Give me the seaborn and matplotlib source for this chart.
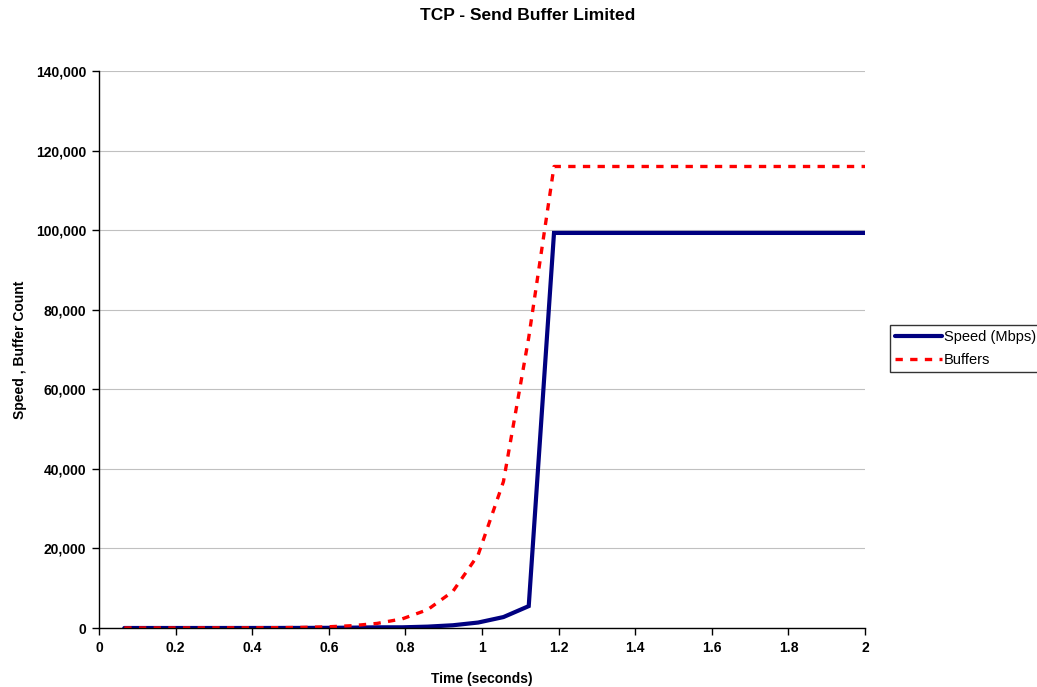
import pandas as pd
import matplotlib
matplotlib.use("Agg")
import matplotlib.pyplot as plt
import seaborn as sns
from matplotlib.ticker import FuncFormatter, MultipleLocator

# samples every round trip (~66 ms)
time_s = [0.066, 0.132, 0.198, 0.264, 0.330, 0.396, 0.462, 0.528, 0.594, 0.660,
          0.726, 0.792, 0.858, 0.924, 0.990, 1.056, 1.122, 1.188, 1.254, 1.320,
          1.386, 1.452, 1.518, 1.584, 1.650, 1.716, 1.782, 1.848, 1.914, 1.980,
          2.046]
speed = [0, 0, 0, 1, 3, 5, 11, 21, 43, 86,
         172, 172, 344, 688, 1375, 2750, 5500, 99300, 99300, 99300,
         99300, 99300, 99300, 99300, 99300, 99300, 99300, 99300, 99300, 99300,
         99300]
buffers = [2, 4, 9, 18, 36, 36, 72, 145, 290, 575,
           1150, 2300, 4600, 9200, 18400, 36800, 73000, 116000, 116000, 116000,
           116000, 116000, 116000, 116000, 116000, 116000, 116000, 116000, 116000, 116000,
           116000]

y_ticks = [0, 20000, 40000, 60000, 80000, 100000, 120000, 140000]

sns.set_style("white")
plt.rcParams["font.family"] = ["Liberation Sans", "DejaVu Sans"]
plt.rcParams["text.color"] = "black"
plt.rcParams["axes.labelcolor"] = "black"
plt.rcParams["xtick.color"] = "black"
plt.rcParams["ytick.color"] = "black"

fig = plt.figure(figsize=(10.37, 6.87), dpi=100)
ax = fig.add_axes([99 / 1037, 59 / 687, 766 / 1037, 557 / 687])

df = pd.DataFrame({"t": time_s, "speed": speed, "buffers": buffers})
sns.lineplot(data=df, x="t", y="speed", ax=ax, color="#000080", lw=3.0,
             label="Speed (Mbps)", solid_joinstyle="miter")
sns.lineplot(data=df, x="t", y="buffers", ax=ax, color="#ff0000", lw=2.4,
             linestyle=(0, (2.2, 2.2)), label="Buffers", dash_capstyle="butt")

ax.set_xlim(0, 2)
ax.set_ylim(0, 140000)
ax.set_yticks(y_ticks)
ax.xaxis.set_major_locator(MultipleLocator(0.2))
ax.xaxis.set_major_formatter(FuncFormatter(lambda v, p: f"{v:g}"))
ax.yaxis.set_major_formatter(FuncFormatter(lambda v, p: f"{int(v):,}"))
ax.grid(axis="y", color="#c0c0c0", lw=0.8)
ax.set_axisbelow(True)
for s in ["top", "right"]:
    ax.spines[s].set_visible(False)
for s in ["left", "bottom"]:
    ax.spines[s].set_color("black")
    ax.spines[s].set_linewidth(1.0)
ax.tick_params(axis="both", direction="out", length=5, width=1, color="black",
               labelsize=10, pad=4, left=True, bottom=True)
for lab in ax.get_xticklabels() + ax.get_yticklabels():
    lab.set_fontweight("bold")

ax.set_xlabel("Time (seconds)", fontsize=10, fontweight="bold", va="center")
ax.set_ylabel("Speed , Buffer Count", fontsize=10, fontweight="bold", va="center")
ax.xaxis.set_label_coords((482 - 99) / 766, (628 - 679) / 557)
ax.yaxis.set_label_coords((20 - 99) / 766, (628 - 350) / 557)
fig.text(528 / 1037, 1 - 16 / 687, "TCP - Send Buffer Limited", ha="center",
         va="center", fontsize=12.5, fontweight="bold")

ax.legend(loc="upper left", bbox_to_anchor=(890 / 1037, 1 - 325 / 687),
          bbox_transform=fig.transFigure, frameon=True, fancybox=False,
          edgecolor="black", fontsize=10.5, handlelength=3.2, handletextpad=0.15,
          borderpad=0.35, labelspacing=0.6, borderaxespad=0)
ax.get_legend().get_frame().set_linewidth(1.0)

fig.savefig("out.png", dpi=100)
